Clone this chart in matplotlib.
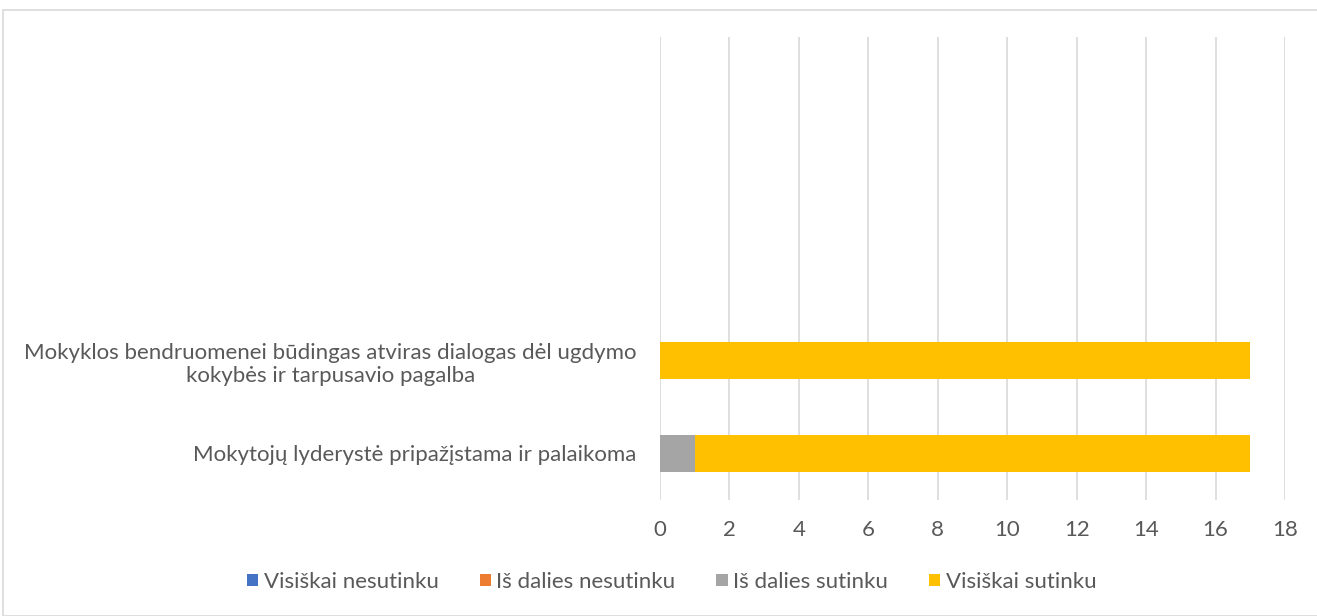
import matplotlib
matplotlib.use("Agg")
import matplotlib.pyplot as plt
from matplotlib.patches import Rectangle
import numpy as np

# categories from bottom to top (three empty slots at the top, as in the source chart)
categories = [
    "Mokytojų lyderystė pripažįstama ir palaikoma",
    "Mokyklos bendruomenei būdingas atviras dialogas dėl ugdymo\nkokybės ir tarpusavio pagalba",
    "", "", "",
]
series_names = ["Visiškai nesutinku", "Iš dalies nesutinku", "Iš dalies sutinku", "Visiškai sutinku"]
series_values = [
    [0, 0, 0, 0, 0],
    [0, 0, 0, 0, 0],
    [1, 0, 0, 0, 0],
    [16, 17, 0, 0, 0],
]
colors = ["#4472C4", "#ED7D31", "#A5A5A5", "#FFC000"]
text_color = "#595959"

plt.rcParams["font.family"] = ["Lato", "DejaVu Sans"]

fig = plt.figure(figsize=(13.17, 6.16), dpi=100)
# light chart border
fig.patches.append(Rectangle((3 / 1317, 0), 1.0, 1 - 10 / 616, transform=fig.transFigure,
                             fill=False, edgecolor="#D9D9D9", linewidth=1.2))

ax = fig.add_axes([660 / 1317, 116.5 / 616, 625 / 1317, 462.5 / 616])
y = np.arange(len(categories))
left = np.zeros(len(categories))
for name, vals, c in zip(series_names, series_values, colors):
    ax.barh(y, vals, left=left, height=0.4, color=c, label=name, zorder=3)
    left += np.array(vals)

ax.set_xlim(0, 18)
ax.set_ylim(-0.5, len(categories) - 0.5)
ax.set_xticks(np.arange(0, 19, 2))
ax.set_yticks(y)
ax.set_yticklabels(categories, multialignment="center")
ax.grid(axis="x", color="#D9D9D9", linewidth=1.2, zorder=0)
for s in ax.spines.values():
    s.set_visible(False)
ax.tick_params(axis="both", length=0, labelsize=16, colors=text_color)
ax.tick_params(axis="x", pad=15)
ax.tick_params(axis="y", pad=17)

leg = fig.legend(loc="center", bbox_to_anchor=(0.51, 1 - 582 / 616), ncol=4, frameon=False,
                 fontsize=16, handlelength=0.5, handleheight=0.5, handletextpad=0.25,
                 columnspacing=1.85)
for t in leg.get_texts():
    t.set_color(text_color)

fig.savefig("out.png", dpi=100)
